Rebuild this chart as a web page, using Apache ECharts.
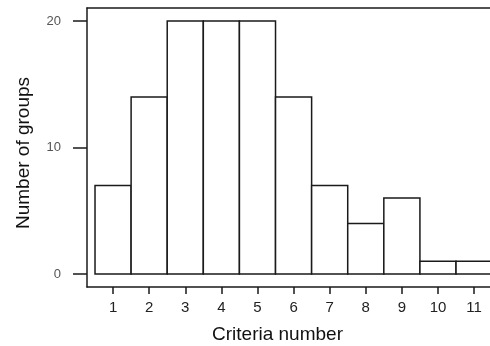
<!DOCTYPE html>
<html><head><meta charset="utf-8">
<script src="https://cdn.jsdelivr.net/npm/echarts@6/dist/echarts.min.js"></script>
<style>html,body{margin:0;padding:0;background:#fff}#c{width:490px;height:346px}</style>
</head><body><div id="c"></div>
<script>
const categories = [1, 2, 3, 4, 5, 6, 7, 8, 9, 10, 11];
const counts = [7, 14, 20, 20, 20, 14, 7, 4, 6, 1, 1];
const yTicks = [0, 10, 20];

const chart = echarts.init(document.getElementById('c'));
const data = categories.map((c, i) => [c, counts[i]]);
const lineCol = '#1a1a1a';
chart.setOption({
  animation: false,
  grid: { left: 87, right: 0, top: 8, bottom: 59, outerBoundsMode: 'none', containLabel: false },
  xAxis: [{
    type: 'value', min: 0.278, max: 11.441,
    name: 'Criteria number', nameLocation: 'middle', nameGap: 38,
    nameTextStyle: { fontFamily: 'Liberation Sans, Arial', fontSize: 19, color: '#111', padding: [0, 22, 0, 0] },
    axisLine: { show: true, onZero: false, lineStyle: { color: lineCol, width: 1.5 } },
    axisTick: { show: true, length: 7, customValues: categories, lineStyle: { color: lineCol, width: 1.5 } },
    axisLabel: { customValues: categories, margin: 13, fontFamily: 'Liberation Sans, Arial', fontSize: 15, color: '#222' },
    splitLine: { show: false }
  }, {
    type: 'value', position: 'top', min: 0.278, max: 11.441,
    axisLine: { show: true, onZero: false, lineStyle: { color: lineCol, width: 1.5 } },
    axisTick: { show: false }, axisLabel: { show: false }, splitLine: { show: false }
  }],
  yAxis: {
    type: 'value', min: -1.03, max: 21.03,
    name: 'Number of groups', nameLocation: 'middle', nameGap: 54,
    nameTextStyle: { fontFamily: 'Liberation Sans, Arial', fontSize: 19, color: '#111', padding: [0, 11, 0, 0] },
    axisLine: { show: true, onZero: false, lineStyle: { color: lineCol, width: 1.5 } },
    axisTick: { show: true, length: 14, customValues: yTicks, lineStyle: { color: lineCol, width: 1.5 } },
    axisLabel: { customValues: yTicks, margin: 26, fontFamily: 'Liberation Sans, Arial', fontSize: 13, color: '#555' },
    splitLine: { show: false }
  },
  series: [{
    type: 'custom',
    data: data,
    renderItem: function (params, api) {
      const x = api.value(0), v = api.value(1);
      const p0 = api.coord([x - 0.5, v]);
      const p1 = api.coord([x + 0.5, 0]);
      return {
        type: 'rect',
        shape: { x: p0[0], y: p0[1], width: p1[0] - p0[0], height: p1[1] - p0[1] },
        style: { fill: '#fff', stroke: lineCol, lineWidth: 1.5 }
      };
    }
  }]
});
</script></body></html>
